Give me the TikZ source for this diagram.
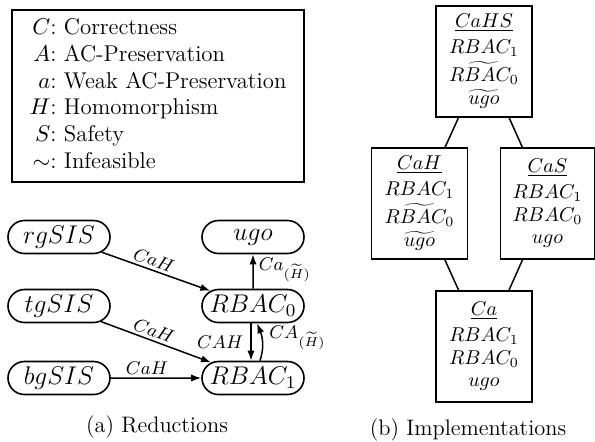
\documentclass[tikz,border=0pt]{standalone}
\usepackage{fix-cm}
\usetikzlibrary{arrows.meta,shapes.misc,bending}
\newcommand\implfont{\fontsize{10}{13}\selectfont\lineskiplimit=-20pt\relax}
\tikzset{
  pill/.style={draw, line width=0.8pt, rounded rectangle, minimum width=51pt, minimum height=16.5pt, inner sep=0pt, font=\fontsize{12.8}{15}\selectfont},
  impl/.style={draw, line width=0.8pt, rectangle, minimum width=48pt, minimum height=55.5pt, inner sep=0pt, align=center, font=\implfont},
  arr/.style={line width=0.75pt, -{Latex[length=5pt,width=3.6pt]}},
  elabel/.style={font=\fontsize{9.2}{11}\selectfont, inner sep=1.5pt},
  link/.style={line width=0.75pt},
  legendbox/.style={draw, line width=0.6pt, minimum width=146pt, minimum height=86pt, inner sep=0pt, font=\fontsize{11.4}{13.35}\selectfont},
  caption/.style={font=\fontsize{11.2}{13}\selectfont, inner sep=0pt}
}
\begin{document}
\begin{tikzpicture}[x=0.5pt,y=-0.5pt]
\useasboundingbox (0,0) rectangle (595,441);
% legend
\node[legendbox] (legend) at (158,96) {%
  \begin{tabular}{@{}r@{:\ }l@{}}
  $C$ & Correctness\\
  $A$ & AC-Preservation\\
  $a$ & Weak AC-Preservation\\
  $H$ & Homomorphism\\
  $S$ & Safety\\
  $\sim$ & Infeasible
  \end{tabular}};
% (a) reductions
\node[pill] (rg) at (59,237) {$rgSIS$};
\node[pill] (tg) at (59,306) {$tgSIS$};
\node[pill] (bg) at (59,378) {$bgSIS$};
\node[pill] (ugo) at (253,237) {$ugo$};
\node[pill] (r0) at (253,306) {$RBAC_0$};
\node[pill] (r1) at (253,378) {$RBAC_1$};
\draw[arr] (rg) -- node[elabel, above, sloped, pos=0.45] {$CaH$} (r0);
\draw[arr] (tg) -- node[elabel, above, sloped, pos=0.45] {$CaH$} (r1);
\draw[arr] (bg) -- node[elabel, above, pos=0.4] {$CaH$} (r1);
\draw[arr] (r0) -- node[elabel, right, inner sep=2.5pt, yshift=1pt] {$Ca_{(\widetilde{H})}$} (ugo);
\draw[arr] ([xshift=-1pt]r0.south) -- node[elabel, left, inner sep=3.5pt] {$CAH$} ([xshift=-1pt]r1.north);
\draw[arr] ([xshift=3.5pt]r1.north) to[bend right=22] node[elabel, right, inner sep=3pt, yshift=2pt] {$CA_{(\widetilde{H})}$} ([xshift=2pt]r0.south);
\node[caption] (capa) at (157,427) {(a) Reductions};
% (b) implementations
\node[impl] (cahs) at (484,61.5) {\underline{$CaHS$}\\ $RBAC_1$\\[1pt] $\widetilde{RBAC_0}$\\[-1.5pt] $\widetilde{ugo}$};
\node[impl] (cah) at (419.5,203.5) {\underline{$CaH$}\\ $RBAC_1$\\[1pt] $\widetilde{RBAC_0}$\\[-1.5pt] $\widetilde{ugo}$};
\node[impl, minimum width=47pt] (cas) at (547.5,203.5) {\underline{$CaS$}\\ $RBAC_1$\\[-1.5pt] $RBAC_0$\\[-2pt] $ugo$};
\node[impl] (ca) at (484,346.5) {\underline{$Ca$}\\ $RBAC_1$\\[-1.5pt] $RBAC_0$\\[-2pt] $ugo$};
\draw[link] (cahs) -- (cah);
\draw[link] (cahs) -- (cas);
\draw[link] (cah) -- (ca);
\draw[link] (cas) -- (ca);
\node[caption] (capb) at (468,430) {(b) Implementations};
\end{tikzpicture}
\end{document}
